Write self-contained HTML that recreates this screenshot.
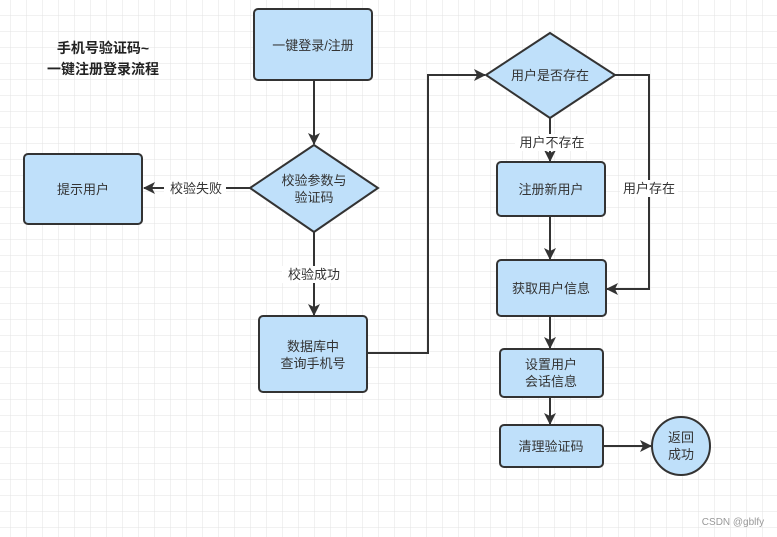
<!DOCTYPE html>
<html><head><meta charset="utf-8"><style>
html,body{margin:0;padding:0;background:#fff;}
svg{display:block;font-family:"Liberation Sans","Noto Sans CJK SC",sans-serif;}
</style></head><body>
<svg width="777" height="537" viewBox="0 0 777 537" xmlns="http://www.w3.org/2000/svg">
<defs>
<pattern id="g" x="10" y="15" width="16" height="16" patternUnits="userSpaceOnUse">
<path d="M0 0H16M0 0V16" stroke="#e3e3e3" stroke-width="1" fill="none"/>
</pattern>
<marker id="a" markerWidth="12" markerHeight="12" refX="11" refY="6" orient="auto" markerUnits="userSpaceOnUse">
<path d="M0 0L12 6L0 12L3 6Z" fill="#333"/>
</marker>
</defs>
<rect width="777" height="537" fill="url(#g)"/>
<g stroke="#333" stroke-width="2" fill="#bfe0fa">
<rect x="254" y="9" width="118" height="71" rx="4"/>
<polygon points="314,145 378,188 314,232 250,188"/>
<rect x="24" y="154" width="118" height="70" rx="4"/>
<rect x="259" y="316" width="108" height="76" rx="4"/>
<polygon points="550,33 615,75 550,118 486,75"/>
<rect x="497" y="162" width="108" height="54" rx="4"/>
<rect x="497" y="260" width="109" height="56" rx="4"/>
<rect x="500" y="349" width="103" height="48" rx="4"/>
<rect x="500" y="425" width="103" height="42" rx="4"/>
<circle cx="681" cy="446" r="29"/>
</g>
<g stroke="#333" stroke-width="2" fill="none" marker-end="url(#a)">
<path d="M314 80V144"/>
<path d="M250 188H144"/>
<path d="M314 232V315"/>
<path d="M367 353H428V75H485"/>
<path d="M550 118V161"/>
<path d="M615 75H649V289H607"/>
<path d="M550 216V259"/>
<path d="M550 316V348"/>
<path d="M550 397V424"/>
<path d="M603 446H651"/>
</g>
<g fill="#fff">
<rect x="164" y="180" width="62" height="17"/>
<rect x="282" y="266" width="64" height="17"/>
<rect x="515" y="134" width="74" height="17"/>
<rect x="620" y="180" width="58" height="17"/>
</g>
<g font-size="13" fill="#333" text-anchor="middle">
<text x="313" y="50">一键登录/注册</text>
<text x="314" y="185">校验参数与</text>
<text x="314" y="202">验证码</text>
<text x="83" y="194">提示用户</text>
<text x="313" y="351">数据库中</text>
<text x="313" y="368">查询手机号</text>
<text x="550" y="80">用户是否存在</text>
<text x="551" y="194">注册新用户</text>
<text x="551" y="293">获取用户信息</text>
<text x="551" y="369">设置用户</text>
<text x="551" y="386">会话信息</text>
<text x="551" y="451">清理验证码</text>
<text x="681" y="442">返回</text>
<text x="681" y="459">成功</text>
<text x="196" y="193">校验失败</text>
<text x="314" y="279">校验成功</text>
<text x="552" y="147">用户不存在</text>
<text x="649" y="193">用户存在</text>
</g>
<g font-size="14" font-weight="bold" fill="#222" text-anchor="middle">
<text x="103" y="53">手机号验证码~</text>
<text x="103" y="74">一键注册登录流程</text>
</g>
<text x="733" y="525" font-size="10" fill="#999" text-anchor="middle">CSDN @gblfy</text>
</svg>
</body></html>
